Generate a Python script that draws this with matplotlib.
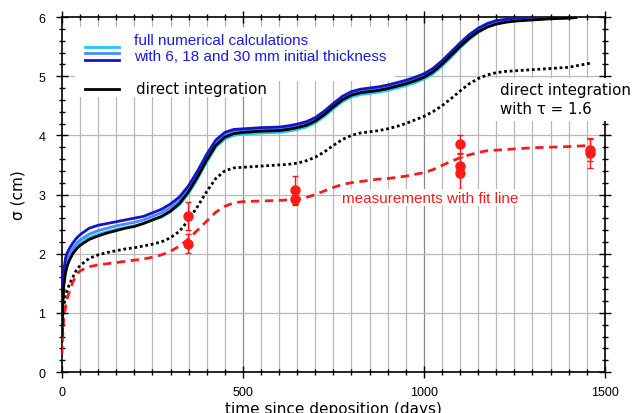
import matplotlib.pyplot as plt
from matplotlib.ticker import MultipleLocator
from matplotlib.patches import Rectangle
from matplotlib.lines import Line2D

# Model curves (days, sigma in cm).
days = [0, 2, 5, 10, 15, 20, 30, 40, 50, 75, 100, 125, 150, 175, 200, 225,
        250, 275, 300, 325, 350, 375, 400, 425, 450, 475, 500, 525, 550, 575,
        600, 625, 650, 675, 700, 725, 750, 775, 800, 825, 850, 875, 900, 925,
        950, 975, 1000, 1025, 1050, 1075, 1100, 1125, 1150, 1175, 1200, 1225,
        1250, 1275, 1300, 1350, 1400, 1420]

direct = [0.6, 1.1, 1.45, 1.68, 1.8, 1.88, 2.0, 2.08, 2.14, 2.24, 2.3, 2.35,
          2.39, 2.43, 2.46, 2.51, 2.57, 2.63, 2.72, 2.85, 3.05, 3.3, 3.58,
          3.83, 3.97, 4.03, 4.05, 4.06, 4.07, 4.075, 4.08, 4.1, 4.13, 4.17,
          4.24, 4.35, 4.48, 4.6, 4.68, 4.72, 4.74, 4.76, 4.79, 4.83, 4.87,
          4.92, 4.98, 5.07, 5.2, 5.35, 5.5, 5.64, 5.75, 5.83, 5.88, 5.91, 5.93,
          5.94, 5.95, 5.97, 5.98, 5.99]

num_30mm = [0.8, 1.3, 1.7, 1.93, 2.02, 2.08, 2.18, 2.26, 2.32, 2.43, 2.48,
            2.51, 2.54, 2.57, 2.6, 2.63, 2.69, 2.75, 2.84, 2.96, 3.15, 3.4,
            3.68, 3.92, 4.05, 4.1, 4.11, 4.12, 4.13, 4.135, 4.14, 4.16, 4.19,
            4.23, 4.3, 4.41, 4.54, 4.66, 4.74, 4.78, 4.8, 4.82, 4.85, 4.89,
            4.93, 4.98, 5.04, 5.13, 5.26, 5.41, 5.56, 5.7, 5.81, 5.89, 5.94,
            5.96, 5.98, 5.99, 5.995, 6.0, 6.0, 6.0]

num_18mm = [0.7, 1.2, 1.58, 1.8, 1.91, 1.98, 2.09, 2.17, 2.23, 2.33, 2.39,
            2.43, 2.47, 2.5, 2.53, 2.57, 2.63, 2.69, 2.78, 2.9, 3.1, 3.35,
            3.63, 3.88, 4.01, 4.07, 4.08, 4.09, 4.1, 4.105, 4.11, 4.13, 4.16,
            4.2, 4.27, 4.38, 4.51, 4.63, 4.71, 4.75, 4.77, 4.79, 4.82, 4.86,
            4.9, 4.95, 5.01, 5.1, 5.23, 5.38, 5.53, 5.67, 5.78, 5.86, 5.91,
            5.94, 5.96, 5.97, 5.98, 5.99, 6.0, 6.0]

num_6mm = [0.65, 1.12, 1.5, 1.72, 1.84, 1.92, 2.03, 2.11, 2.17, 2.27, 2.33,
           2.37, 2.41, 2.44, 2.47, 2.51, 2.57, 2.62, 2.71, 2.83, 3.02, 3.27,
           3.55, 3.8, 3.94, 4.0, 4.02, 4.03, 4.04, 4.045, 4.05, 4.07, 4.1,
           4.14, 4.21, 4.32, 4.45, 4.57, 4.65, 4.69, 4.71, 4.73, 4.76, 4.8,
           4.84, 4.89, 4.95, 5.04, 5.17, 5.32, 5.48, 5.62, 5.74, 5.83, 5.89,
           5.93, 5.95, 5.96, 5.97, 5.99, 6.0, 6.0]

days_tau = [0, 2, 5, 10, 15, 20, 30, 40, 50, 75, 100, 125, 150, 175, 200, 225,
            250, 275, 300, 325, 350, 375, 400, 425, 450, 475, 500, 525, 550,
            575, 600, 625, 650, 675, 700, 725, 750, 775, 800, 825, 850, 875,
            900, 925, 950, 975, 1000, 1025, 1050, 1075, 1100, 1125, 1150, 1175,
            1200, 1225, 1250, 1275, 1300, 1350, 1400, 1460]

direct_tau = [0.5, 0.85, 1.1, 1.3, 1.4, 1.47, 1.6, 1.72, 1.8, 1.92, 1.98,
              2.02, 2.05, 2.08, 2.1, 2.13, 2.16, 2.2, 2.27, 2.38, 2.57, 2.8,
              3.05, 3.27, 3.4, 3.45, 3.46, 3.47, 3.48, 3.49, 3.5, 3.51, 3.53,
              3.57, 3.63, 3.72, 3.83, 3.93, 4.0, 4.04, 4.06, 4.08, 4.11, 4.15,
              4.2, 4.26, 4.32, 4.4, 4.5, 4.62, 4.75, 4.87, 4.96, 5.02, 5.06,
              5.08, 5.09, 5.1, 5.11, 5.13, 5.15, 5.22]

fit_line = [0.3, 0.6, 0.9, 1.1, 1.25, 1.35, 1.52, 1.64, 1.71, 1.78, 1.81,
            1.83, 1.85, 1.87, 1.89, 1.91, 1.94, 1.98, 2.04, 2.13, 2.25, 2.4,
            2.55, 2.7, 2.8, 2.86, 2.88, 2.885, 2.89, 2.895, 2.9, 2.91, 2.92,
            2.95, 3.0, 3.06, 3.12, 3.17, 3.2, 3.22, 3.24, 3.26, 3.27, 3.29,
            3.31, 3.34, 3.37, 3.42, 3.49, 3.56, 3.62, 3.67, 3.71, 3.74, 3.75,
            3.76, 3.77, 3.78, 3.79, 3.8, 3.81, 3.83]

# Measurements
meas_days = [349, 349, 644, 644, 1101, 1101, 1101, 1459, 1459]
meas_sigma = [2.64, 2.17, 3.08, 2.92, 3.86, 3.49, 3.36, 3.70, 3.75]
meas_err = [0.24, 0.16, 0.24, 0.1, 0.15, 0.2, 0.27, 0.25, 0.18]

plt.rcParams['font.family'] = ['Liberation Sans', 'DejaVu Sans']

fig = plt.figure(figsize=(6.32, 4.14), dpi=100)
ax = fig.add_axes([0.098, 0.099, 0.859, 0.8575])

# Grid
for d in range(50, 1500, 50):
    col = '#8a8a8a' if d % 500 == 0 else '#b8b8b8'
    ax.axvline(d, color=col, lw=0.9, zorder=0)
for s in range(1, 6):
    ax.axhline(s, color='#b8b8b8', lw=0.9, zorder=0)

ax.plot(days, num_6mm, color='#1ec8f5', lw=2, zorder=3, solid_joinstyle='round')
ax.plot(days, num_18mm, color='#4a8cff', lw=2, zorder=3, solid_joinstyle='round')
ax.plot(days, num_30mm, color='#1414c8', lw=2, zorder=3, solid_joinstyle='round')
ax.plot(days, direct, color='black', lw=2, zorder=4, solid_joinstyle='round')
ax.plot(days_tau, direct_tau, color='black', lw=2, ls=(0, (1, 1)), zorder=3)
ax.plot(days_tau, fit_line, color='#ff1a1a', lw=2, ls=(0, (3, 2)), zorder=3)
ax.errorbar(meas_days, meas_sigma, yerr=meas_err, fmt='o', color='#ff1a1a',
            ms=6.5, elinewidth=1, capsize=2, zorder=5)

ax.set_xlim(0, 1500)
ax.set_ylim(0, 6)
ax.xaxis.set_major_locator(MultipleLocator(500))
ax.xaxis.set_minor_locator(MultipleLocator(50))
ax.yaxis.set_major_locator(MultipleLocator(1))
ax.yaxis.set_minor_locator(MultipleLocator(0.2))
ax.tick_params(which='both', direction='inout', top=True, right=True,
               labelsize=9, width=1)
ax.tick_params(which='major', length=8)
ax.tick_params(which='minor', length=5)
ax.tick_params(axis='y', pad=8)
ax.tick_params(axis='x', pad=6)
for sp in ax.spines.values():
    sp.set_linewidth(1.2)

ax.set_xlabel('time since deposition (days)', fontsize=11,
              family=['DejaVu Sans'], labelpad=2)
ax.set_ylabel('σ (cm)', fontsize=11, family=['DejaVu Sans'], labelpad=9)

# Legend box (upper left)
ax.add_patch(Rectangle((0.024, 0.82), 0.59, 0.153, transform=ax.transAxes,
                       facecolor='white', edgecolor='none', zorder=2.5))
ax.add_patch(Rectangle((0.024, 0.775), 0.36, 0.05, transform=ax.transAxes,
                       facecolor='white', edgecolor='none', zorder=2.5))
for yy, c in [(0.915, '#1ec8f5'), (0.899, '#4a8cff'), (0.880, '#1414c8')]:
    ax.add_line(Line2D([0.042, 0.106], [yy, yy], transform=ax.transAxes,
                       color=c, lw=2, zorder=7))
ax.add_line(Line2D([0.042, 0.106], [0.797, 0.797], transform=ax.transAxes,
                   color='black', lw=2, zorder=7))
ax.text(0.132, 0.935, 'full numerical calculations', transform=ax.transAxes,
        color='#1a1ae6', fontsize=11, va='center', zorder=8)
ax.text(0.132, 0.891, 'with 6, 18 and 30 mm initial thickness',
        transform=ax.transAxes, color='#1a1ae6', fontsize=11, va='center',
        zorder=8)
ax.text(0.136, 0.8, 'direct integration', transform=ax.transAxes,
        color='black', fontsize=10.8, va='center', family=['DejaVu Sans'],
        zorder=8)

# Label for dotted curve, sits over the right spine
ax.text(0.806, 0.768, 'direct integration\nwith τ = 1.6', transform=ax.transAxes,
        color='black', fontsize=10.8, va='center', ha='left',
        family=['DejaVu Sans'], linespacing=1.35, clip_on=False, zorder=8,
        bbox=dict(facecolor='white', edgecolor='none', pad=3))

ax.text(0.516, 0.491, 'measurements with fit line', transform=ax.transAxes,
        color='#ff1a1a', fontsize=11, va='center', ha='left', zorder=8,
        bbox=dict(facecolor='white', edgecolor='none', pad=1))

fig.savefig('out.png', dpi=100)
